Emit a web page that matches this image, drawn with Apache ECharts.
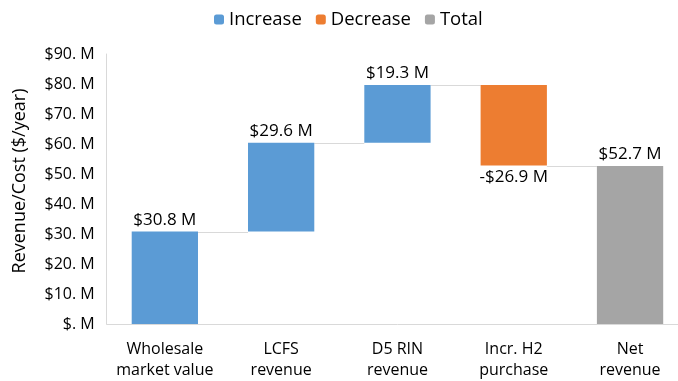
<!DOCTYPE html>
<html>
<head>
<meta charset="utf-8">
<script src="https://cdn.jsdelivr.net/npm/echarts@6/dist/echarts.min.js"></script>
<style>html,body{margin:0;padding:0;background:#fff;overflow:hidden}#c{width:700px;height:381px}</style>
</head>
<body>
<div id="c"></div>
<script>
const categories = ['Wholesale\nmarket value', 'LCFS\nrevenue', 'D5 RIN\nrevenue', 'Incr. H2\npurchase', 'Net\nrevenue'];
const steps = [30.8, 29.6, 19.3, -26.9];
const totalValue = 52.7;
const yTicks = [0, 10, 20, 30, 40, 50, 60, 70, 80, 90];
const yTitle = 'Revenue/Cost ($/year)';

const FONT = 'Open Sans';
const GAP = 0.43;
const increase = [], decrease = [], total = [], base = [], levels = [];
let run = 0;
steps.forEach(function (v, i) {
  if (v >= 0) {
    base.push(run); increase.push(v); decrease.push('-');
  } else {
    base.push(run + v); decrease.push(-v); increase.push('-');
  }
  total.push('-');
  run += v;
  levels.push([i, run]);
});
base.push(0); increase.push('-'); decrease.push('-'); total.push(totalValue);

const chart = echarts.init(document.getElementById('c'), null, {renderer: 'canvas'});
chart.setOption({
  animation: false,
  textStyle: {fontFamily: FONT},
  legend: {
    top: 5, left: 209,
    itemWidth: 10, itemHeight: 10, itemGap: 14,
    data: ['Increase', 'Decrease', 'Total'],
    textStyle: {fontFamily: FONT, fontSize: 18.5, color: '#000'}
  },
  graphic: [{
    type: 'text', x: 20, y: 181, rotation: Math.PI / 2,
    style: {text: yTitle, fontFamily: FONT, fontSize: 18, fill: '#000', align: 'center', verticalAlign: 'middle'}
  }],
  grid: {left: 106.7, top: 54, height: 270.5, width: 581.5, containLabel: false},
  xAxis: {
    type: 'category', data: categories,
    axisLine: {lineStyle: {color: '#D9D9D9', width: 1}},
    axisTick: {show: false},
    axisLabel: {fontFamily: FONT, fontSize: 16, color: '#000', margin: 15, lineHeight: 21, interval: 0}
  },
  yAxis: {
    type: 'value', min: yTicks[0], max: yTicks[yTicks.length - 1], interval: 10,
    axisLine: {show: true, lineStyle: {color: '#D9D9D9', width: 1}},
    axisTick: {show: false},
    splitLine: {show: false},
    axisLabel: {
      fontFamily: FONT, fontSize: 16, color: '#000', margin: 12,
      formatter: function (v) { return v === 0 ? '$. M' : '$' + v + '. M'; }
    }
  },
  series: [
    {
      type: 'custom', z: 1, silent: true,
      data: levels,
      renderItem: function (params, api) {
        const i = api.value(0), lv = api.value(1);
        const p1 = api.coord([i, lv]);
        const p2 = api.coord([i + 1, lv]);
        const half = api.size([1, 0])[0] * (1 - GAP) / 2;
        const y = Math.round(p1[1]) + 0.5;
        return {
          type: 'line',
          shape: {x1: p1[0] + half, y1: y, x2: p2[0] - half, y2: y},
          style: {stroke: '#D9D9D9', lineWidth: 1}
        };
      }
    },
    {
      name: 'base', type: 'bar', stack: 'w', z: 2, barCategoryGap: (GAP * 100) + '%',
      itemStyle: {color: 'transparent'}, data: base, silent: true
    },
    {
      name: 'Increase', type: 'bar', stack: 'w', z: 3,
      itemStyle: {color: '#5B9BD5'}, data: increase,
      label: {show: true, position: 'top', distance: 3, fontFamily: FONT, fontSize: 17, color: '#000',
        formatter: function (p) { return '$' + p.value.toFixed(1) + ' M'; }}
    },
    {
      name: 'Decrease', type: 'bar', stack: 'w', z: 3,
      itemStyle: {color: '#ED7D31'}, data: decrease,
      label: {show: true, position: 'bottom', distance: 3, fontFamily: FONT, fontSize: 17, color: '#000',
        formatter: function (p) { return '-$' + p.value.toFixed(1) + ' M'; }}
    },
    {
      name: 'Total', type: 'bar', stack: 'w', z: 3,
      itemStyle: {color: '#A5A5A5'}, data: total,
      label: {show: true, position: 'top', distance: 3, fontFamily: FONT, fontSize: 17, color: '#000',
        formatter: function (p) { return '$' + p.value.toFixed(1) + ' M'; }}
    }
  ]
});
</script>
</body>
</html>
